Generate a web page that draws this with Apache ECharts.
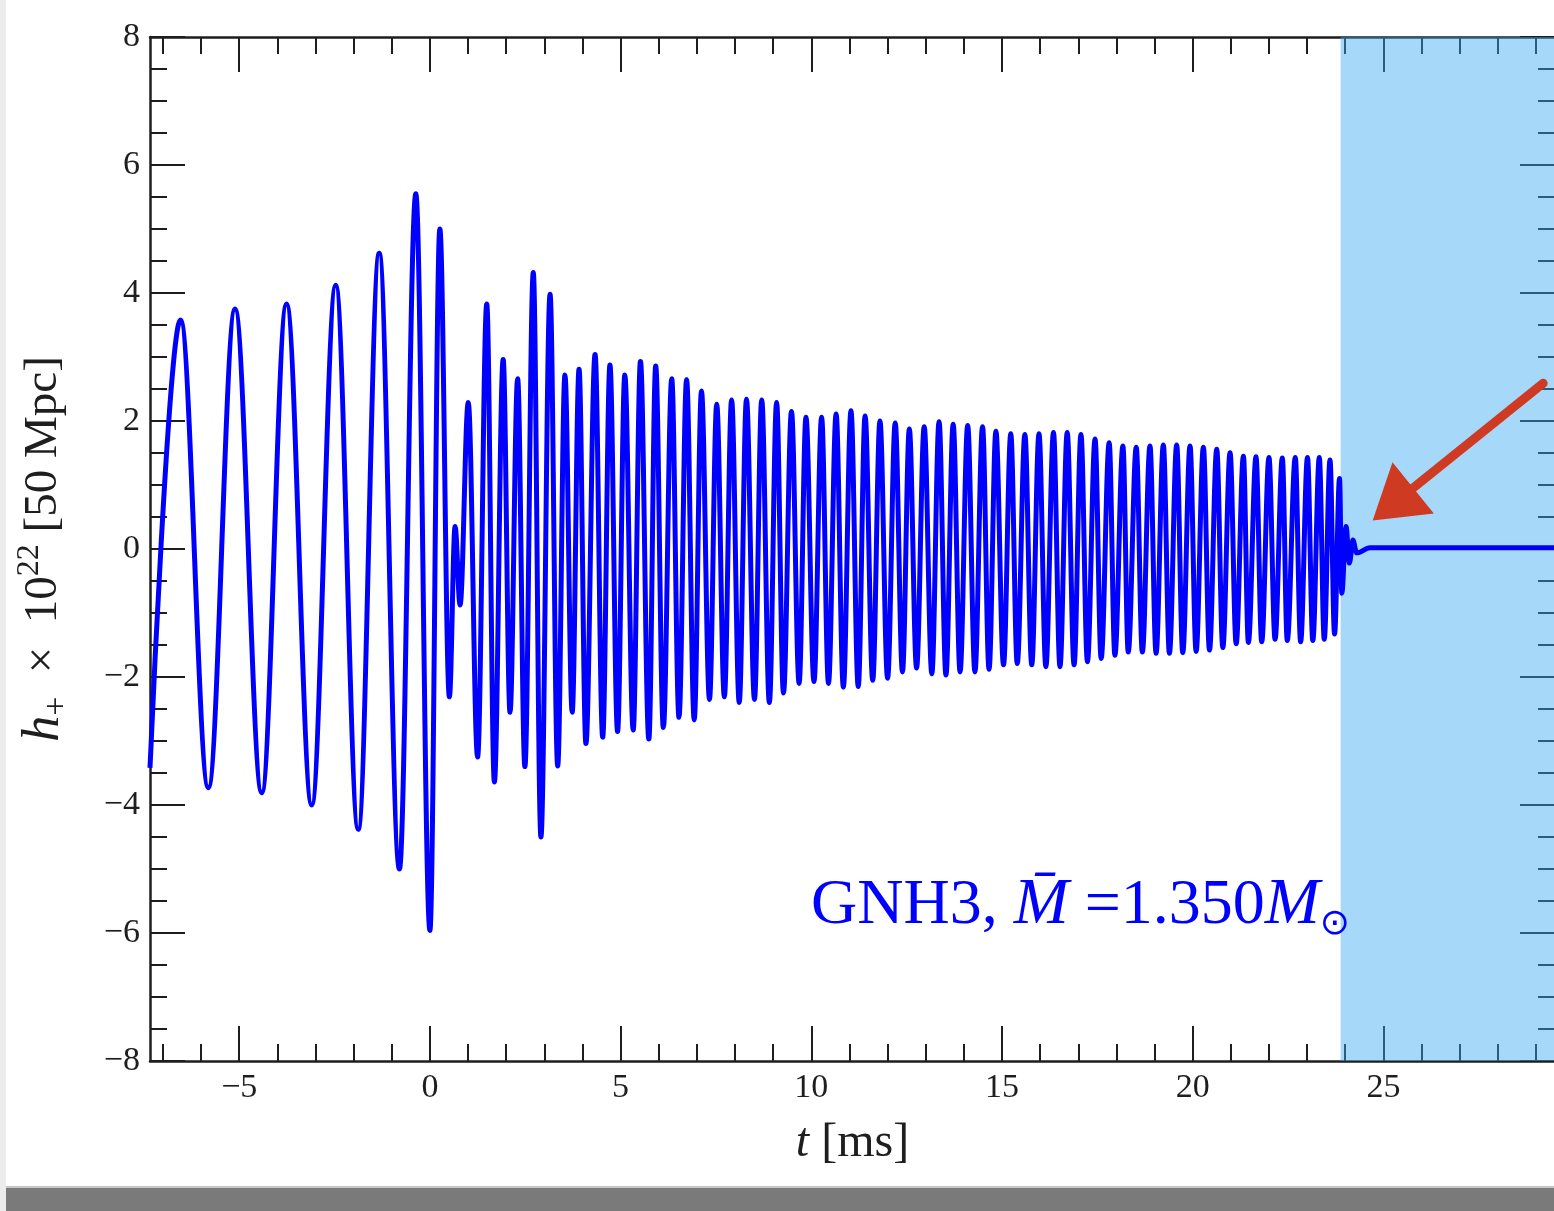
<!DOCTYPE html>
<html>
<head>
<meta charset="utf-8">
<script src="https://cdn.jsdelivr.net/npm/echarts@6/dist/echarts.min.js"></script>
<style>
  html, body { margin: 0; padding: 0; width: 1554px; height: 1211px; overflow: hidden; background: #ffffff; }
  #chart { position: absolute; left: 0; top: 0; width: 1554px; height: 1188px; }
  #edge  { position: absolute; left: 0; top: 0; width: 6px; height: 1211px; background: #ececec; }
  #bar   { position: absolute; left: 6px; top: 1186px; width: 1548px; height: 25px;
           background: #7a7a7a; border-top: 2px solid #c6c6c6; box-sizing: border-box; }
</style>
</head>
<body>
<div id="chart"></div>
<div id="edge"></div>
<div id="bar"></div>
<script>
// Strain waveform h+ x 1e22 at 50 Mpc: successive maxima / minima of the signal (t in ms)
const timeMs = [
  -7.34, -6.54, -5.81, -5.11, -4.41, -3.76, -3.10, -2.47, -1.88, -1.33, -0.80, -0.37, 0.00, 0.26, 0.51, 0.66, 0.79,
  1.005, 1.25, 1.49, 1.69, 1.92, 2.10, 2.30, 2.49, 2.71, 2.91, 3.15, 3.35, 3.54, 3.73, 3.91, 4.09,
  4.33, 4.53, 4.72, 4.92, 5.11, 5.33, 5.52, 5.74, 5.92, 6.12, 6.34, 6.53, 6.73, 6.93, 7.12, 7.33,
  7.52, 7.72, 7.91, 8.11, 8.30, 8.51, 8.70, 8.90, 9.09, 9.27, 9.48, 9.68, 9.86, 10.07, 10.27, 10.45,
  10.65, 10.84, 11.04, 11.23, 11.41, 11.61, 11.80, 12.00,
  12.20, 12.39, 12.57, 12.76, 12.96, 13.16, 13.35, 13.53, 13.72, 13.90, 14.10, 14.29, 14.49, 14.66,
  14.84, 15.04, 15.23, 15.40, 15.60, 15.78, 15.97, 16.15, 16.35, 16.52, 16.71, 16.89, 17.07, 17.24,
  17.44, 17.60, 17.81, 17.96, 18.17, 18.31, 18.52, 18.68, 18.88, 19.04, 19.23, 19.39, 19.58, 19.74,
  19.93, 20.09, 20.28, 20.44, 20.63, 20.79, 20.98, 21.14, 21.33, 21.46, 21.66, 21.81, 22.00, 22.16,
  22.35, 22.48, 22.69, 22.83, 23.01, 23.15, 23.32, 23.45, 23.60, 23.72, 23.85,
  23.91, 24.02, 24.11, 24.20, 24.30, 24.65, 29.50
];
const strain = [
  -3.42, 3.58, -3.73, 3.75, -3.81, 3.83, -4.00, 4.12, -4.38, 4.62, -5.00, 5.55, -5.96, 5.00, -2.31, 0.35, -0.875,
  2.29, -3.25, 3.83, -3.64, 2.96, -2.55, 2.66, -3.40, 4.32, -4.50, 3.98, -3.39, 2.72, -2.55, 2.81, -3.04,
  3.04, -2.94, 2.875, -2.85, 2.72, -2.83, 2.93, -2.97, 2.86, -2.79, 2.66, -2.63, 2.65, -2.67, 2.47, -2.35,
  2.26, -2.31, 2.33, -2.40, 2.34, -2.35, 2.33, -2.40, 2.29, -2.25, 2.15, -2.10, 2.06, -2.07, 2.06, -2.10,
  2.11, -2.16, 2.16, -2.15, 2.08, -2.05, 2.00, -2.02,
  1.97, -1.92, 1.875, -1.86, 1.91, -1.95, 1.99, -1.97, 1.95, -1.92, 1.93, -1.92, 1.91, -1.88,
  1.84, -1.81, 1.80, -1.79, 1.79, -1.81, 1.80, -1.84, 1.82, -1.84, 1.82, -1.81, 1.79, -1.76,
  1.72, -1.71, 1.66, -1.66, 1.61, -1.61, 1.59, -1.61, 1.61, -1.63, 1.625, -1.63, 1.625, -1.62,
  1.61, -1.60, 1.59, -1.58, 1.56, -1.54, 1.505, -1.48, 1.45, -1.46, 1.44, -1.45, 1.43, -1.41,
  1.42, -1.43, 1.43, -1.45, 1.43, -1.43, 1.43, -1.41, 1.39, -1.33, 1.10,
  -0.69, 0.35, -0.22, 0.14, -0.06, 0.02, 0.02
];

// Axes
const X_MIN = -7.34, X_MAX = 29.5;
const Y_MIN = -8, Y_MAX = 8, Y_STEP = 2;
const xMajorTicks = [-5, 0, 5, 10, 15, 20, 25];
const xMinorTicks = [-7, -6, -4, -3, -2, -1, 1, 2, 3, 4, 6, 7, 8, 9, 11, 12, 13, 14,
                     16, 17, 18, 19, 21, 22, 23, 24, 26, 27, 28, 29];

// Collapse window and annotations
const SHADE_START = 23.88;
const ARROW_FROM = [29.19, 2.59];
const ARROW_HEAD = [25.25, 0.70];   // centre of the arrowhead
const LABEL_MODEL = 'GNH3, ';
const LABEL_MASS = ' =1.350';

const INK = '#1e1e1e';
const SERIF = '"Liberation Serif", "DejaVu Serif", serif';
const minus = v => String(v).replace('-', '\u2212');

function xAxisDef(position, ticks, len, withLine, withLabels) {
  return {
    type: 'value', position: position, min: X_MIN, max: X_MAX,
    axisLine: { show: withLine, onZero: false, lineStyle: { color: INK, width: 2.5 } },
    axisTick: { show: true, inside: true, length: len, customValues: ticks,
                lineStyle: { color: INK, width: 2 } },
    axisLabel: withLabels ? {
      show: true, customValues: ticks, margin: 10, formatter: minus,
      fontFamily: SERIF, fontSize: 34, color: INK
    } : { show: false },
    splitLine: { show: false }
  };
}

function yAxisDef(position, withLabels) {
  return {
    type: 'value', position: position, min: Y_MIN, max: Y_MAX, interval: Y_STEP,
    axisLine: { show: true, onZero: false, lineStyle: { color: INK, width: 2.5 } },
    axisTick: { show: true, inside: true, length: 35, lineStyle: { color: INK, width: 2 } },
    minorTick: { show: true, splitNumber: 4, length: 17, lineStyle: { color: INK, width: 2 } },
    axisLabel: withLabels ? {
      show: true, margin: 10, formatter: minus,
      fontFamily: SERIF, fontSize: 34, color: INK
    } : { show: false },
    splitLine: { show: false }, minorSplitLine: { show: false }
  };
}

const xBottom = xAxisDef('bottom', xMajorTicks, 35, true, true);
xBottom.name = '{i|t} {n|[ms]}';
xBottom.nameLocation = 'middle';
xBottom.nameGap = 58;
xBottom.nameTextStyle = {
  fontFamily: SERIF, fontSize: 48, color: INK,
  rich: {
    i: { fontFamily: SERIF, fontSize: 48, fontStyle: 'italic', color: INK },
    n: { fontFamily: SERIF, fontSize: 48, color: INK }
  }
};

const yLeft = yAxisDef('left', true);
yLeft.name = '{i|h}{sub|+}{n|  \u00d7  10}{sup|22}{n| [50 Mpc]}';
yLeft.nameLocation = 'middle';
yLeft.nameGap = 76;
yLeft.nameTextStyle = {
  fontFamily: SERIF, fontSize: 47, color: INK,
  rich: {
    i:   { fontFamily: SERIF, fontSize: 52, fontStyle: 'italic', color: INK, lineHeight: 60 },
    n:   { fontFamily: SERIF, fontSize: 47, color: INK, lineHeight: 60 },
    sup: { fontFamily: SERIF, fontSize: 32, color: INK, lineHeight: 32, verticalAlign: 'top' },
    sub: { fontFamily: SERIF, fontSize: 34, color: INK, lineHeight: 34, verticalAlign: 'bottom' }
  }
};

const chart = echarts.init(document.getElementById('chart'), null, { renderer: 'canvas' });

chart.setOption({
  animation: false,
  backgroundColor: 'transparent',
  grid: { left: 150, top: 37, right: -1, bottom: 127, outerBoundsMode: 'none', containLabel: false },
  xAxis: [
    xBottom,
    xAxisDef('bottom', xMinorTicks, 17, false, false),
    xAxisDef('top', xMajorTicks, 35, true, false),
    xAxisDef('top', xMinorTicks, 17, false, false)
  ],
  yAxis: [yLeft, yAxisDef('right', false)],
  series: [
    {
      name: 'h+',
      type: 'line',
      xAxisIndex: 0, yAxisIndex: 0,
      data: timeMs.map((t, i) => [t, strain[i]]),
      showSymbol: false,
      smooth: 0.36,
      smoothMonotone: 'x',
      clip: true,
      silent: true,
      z: 3,
      lineStyle: { color: '#0000ff', width: 5, join: 'round' }
    },
    {
      name: 'collapse window',
      type: 'line',
      xAxisIndex: 0, yAxisIndex: 0,
      data: [],
      silent: true,
      z: 5,
      markArea: {
        silent: true,
        itemStyle: { color: 'rgba(57, 168, 244, 0.45)' },
        data: [[{ xAxis: SHADE_START }, { xAxis: X_MAX }]]
      }
    },
    {
      name: 'pointer',
      type: 'line',
      xAxisIndex: 0, yAxisIndex: 0,
      data: [],
      silent: true,
      z: 6,
      markLine: {
        silent: true,
        animation: false,
        symbol: ['none', 'triangle'],
        symbolSize: [66, 52],
        label: { show: false },
        emphasis: { disabled: true },
        lineStyle: { color: '#cf3a22', width: 9, type: 'solid', cap: 'round', opacity: 1 },
        itemStyle: { color: '#cf3a22' },
        data: [[{ coord: ARROW_FROM }, { coord: ARROW_HEAD }]]
      }
    }
  ],
  graphic: [
    {
      type: 'text',
      left: 811,
      top: 873,
      z: 20,
      silent: true,
      style: {
        text: '{g|' + LABEL_MODEL + '}{mi|M\u0304}{g|' + LABEL_MASS + '}{mi|M}{sub|\u2299}',
        rich: {
          g:   { fontFamily: SERIF, fontSize: 64, fill: '#0000ff', lineHeight: 74 },
          mi:  { fontFamily: SERIF, fontSize: 66, fontStyle: 'italic', fill: '#0000ff', lineHeight: 74 },
          sub: { fontFamily: '"DejaVu Sans", sans-serif', fontSize: 36, fill: '#0000ff',
                 lineHeight: 38, verticalAlign: 'bottom' }
        }
      }
    }
  ]
});
</script>
</body>
</html>
